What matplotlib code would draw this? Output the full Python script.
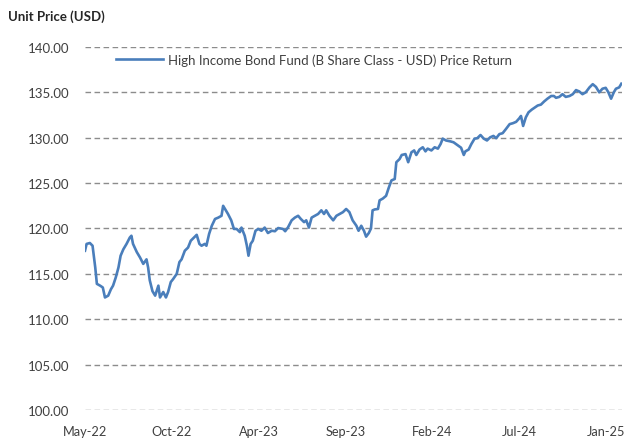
import pandas as pd
import matplotlib
matplotlib.use('Agg')
import matplotlib.pyplot as plt
import matplotlib.dates as mdates

plt.rcParams['font.family'] = ['Lato', 'DejaVu Sans']

start = pd.Timestamp('2022-05-16')
days = [0, 3, 9, 14, 19, 22, 28, 33, 37, 43, 48, 52, 57, 62, 66, 71, 77, 83, 86, 89,
        96, 102, 108, 114, 117, 120, 125, 130, 136, 139, 145, 150, 154, 159, 163, 170, 175, 179, 185, 191,
        196, 202, 207, 212, 216, 222, 225, 230, 235, 241, 247, 253, 256, 261, 265, 271, 276, 281, 287, 290,
        296, 300, 303, 307, 311, 316, 321, 327, 333, 339, 346, 352, 358, 367, 371, 376, 383, 389, 395, 400,
        406, 410, 415, 420, 426, 432, 438, 443, 447, 453, 460, 466, 472, 478, 484, 490, 496, 503, 507, 512,
        517, 521, 526, 530, 533, 537, 543, 546, 552, 558, 563, 568, 574, 577, 583, 587, 594, 599, 605, 610,
        614, 620, 626, 631, 635, 642, 648, 654, 659, 663, 669, 677, 683, 690, 697, 702, 705, 711, 716, 722,
        727, 733, 739, 745, 751, 757, 762, 768, 774, 780, 787, 793, 799, 805, 808, 812, 817, 822, 828, 834,
        839, 845, 851, 857, 864, 869, 873, 879, 885, 891, 898, 904, 910, 916, 922, 928, 935, 941, 947, 953,
        959, 965, 970, 975, 980, 984, 990, 994]
price = [117.55, 118.3, 118.4, 118.1, 115.7, 113.9, 113.7, 113.5, 112.4, 112.6, 113.3, 113.7, 114.6, 115.7, 117.0, 117.7, 118.3, 119.0, 119.2, 118.3,
         117.4, 116.8, 116.1, 116.6, 115.7, 114.3, 113.1, 112.6, 113.7, 112.4, 113.0, 112.4, 113.0, 114.1, 114.4, 115.0, 116.3, 116.6, 117.55, 117.9,
         118.65, 119.0, 119.3, 118.3, 118.1, 118.3, 118.1, 119.4, 120.3, 121.05, 121.2, 121.4, 122.5, 122.0, 121.6, 120.9, 119.95, 119.95, 119.6, 120.1,
         119.2, 118.1, 117.0, 118.3, 118.65, 119.75, 119.95, 119.75, 120.1, 119.5, 119.75, 119.7, 120.05, 119.95, 119.7, 120.1, 120.9, 121.2, 121.4, 121.05,
         120.7, 120.9, 120.1, 121.2, 121.4, 121.6, 122.0, 121.6, 122.0, 121.4, 120.9, 121.4, 121.6, 121.8, 122.15, 121.8, 120.9, 120.3, 119.75, 120.3,
         119.75, 119.1, 119.5, 120.0, 122.0, 122.1, 122.15, 123.1, 123.3, 123.6, 124.5, 125.3, 125.45, 127.3, 127.65, 128.1, 128.2, 127.3, 128.4, 128.6,
         128.1, 128.7, 128.95, 128.5, 128.8, 128.6, 128.95, 128.8, 129.3, 129.9, 129.7, 129.6, 129.5, 129.2, 128.9, 128.1, 128.5, 128.7, 129.3, 129.9,
         129.95, 130.3, 129.9, 129.7, 130.05, 130.2, 129.95, 130.4, 130.5, 130.95, 131.5, 131.6, 131.75, 132.15, 132.4, 131.3, 132.25, 132.8, 133.1, 133.35,
         133.55, 133.65, 134.0, 134.3, 134.6, 134.6, 134.4, 134.5, 134.8, 134.5, 134.6, 134.8, 135.25, 135.1, 134.8, 135.0, 135.55, 135.9, 135.6, 135.0,
         135.4, 135.5, 135.0, 134.3, 135.0, 135.4, 135.55, 135.95]
series_name = 'High Income Bond Fund (B Share Class - USD) Price Return'
y_ticks = [100, 105, 110, 115, 120, 125, 130, 135, 140]
x_tick_days = [0, 161, 322, 483, 644, 805, 966]

dates = [start + pd.Timedelta(days=d) for d in days]
tick_dates = [start + pd.Timedelta(days=d) for d in x_tick_days]

fig = plt.figure(figsize=(6.25, 4.39), dpi=100)
ax = fig.add_axes([0.136, 0.0638, 0.859, 0.8269])

ax.plot(dates, price, color='#4a7ebb', linewidth=1.9, label=series_name)

ax.set_ylim(100, 140)
ax.set_yticks(y_ticks)
ax.set_yticklabels([f'{v:.2f}' for v in y_ticks])
ax.set_xlim(start, start + pd.Timedelta(days=995))
ax.set_xticks(tick_dates)
ax.xaxis.set_major_formatter(mdates.DateFormatter('%b-%y'))

ax.grid(True, axis='y', linestyle=(0, (4, 2.5)), color='#8c8c8c', linewidth=1.0)
ax.set_axisbelow(True)
for s in ax.spines.values():
    s.set_visible(False)
ax.tick_params(axis='both', length=0, labelsize=9.5, colors='#404040')
ax.tick_params(axis='x', labelsize=9.2, pad=11)
ax.tick_params(axis='y', pad=11)

fig.text(0.013, 0.962, 'Unit Price (USD)', fontsize=9.5, fontweight='bold',
         color='#262626', ha='left', va='center')

ax.legend(loc='upper left', bbox_to_anchor=(0.035, 1.016), frameon=False,
          fontsize=9.5, handlelength=3.6, handletextpad=0.4, labelcolor='#404040')

fig.savefig('out.png', dpi=100)
